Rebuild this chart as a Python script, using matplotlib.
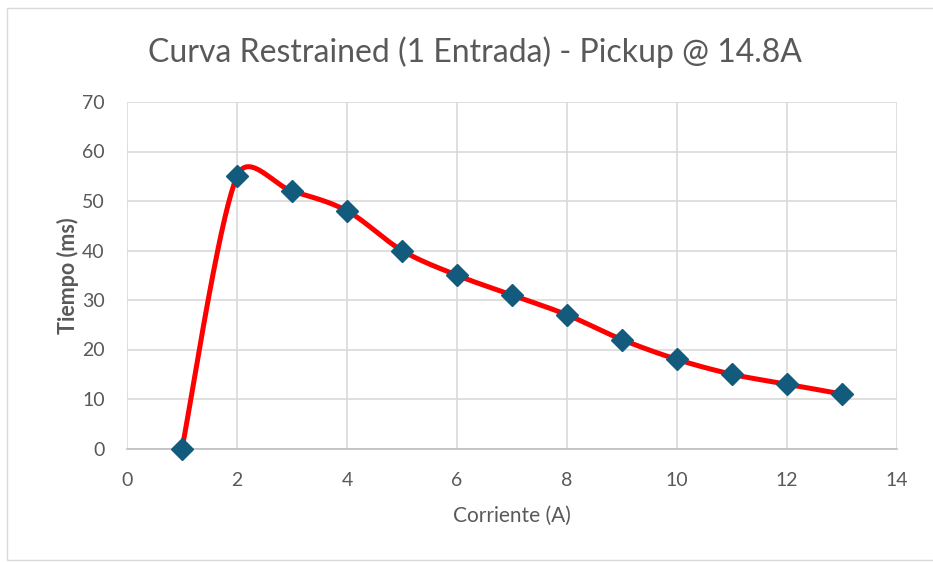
import numpy as np
import matplotlib
matplotlib.use("Agg")
import matplotlib.pyplot as plt
from matplotlib.patches import Rectangle

# Data
corriente = [1, 2, 3, 4, 5, 6, 7, 8, 9, 10, 11, 12, 13]
tiempo = [0, 55, 52, 48, 40, 35, 31, 27, 22, 18, 15, 13, 11]
x_ticks = [0, 2, 4, 6, 8, 10, 12, 14]
y_ticks = [0, 10, 20, 30, 40, 50, 60, 70]
title = "Curva Restrained (1 Entrada) - Pickup @ 14.8A"
xlabel = "Corriente (A)"
ylabel = "Tiempo (ms)"


def excel_smooth(xs, ys, sx, sy, n=40):
    """Excel-style smoothed line: Bezier through the points, control offsets
    1/6 of the neighbour chord, capped at half the segment (screen space)."""
    P = np.column_stack([np.asarray(xs, float) * sx, np.asarray(ys, float) * sy])
    ext = np.vstack([P[0], P, P[-1]])
    out = []
    t = np.linspace(0, 1, n)[:, None]
    for i in range(1, len(ext) - 2):
        p0, p1, p2, p3 = ext[i - 1], ext[i], ext[i + 1], ext[i + 2]
        d12 = np.linalg.norm(p2 - p1)
        d02 = np.linalg.norm(p2 - p0)
        d13 = np.linalg.norm(p3 - p1)
        f1 = 1 / 6.0
        f2 = 1 / 6.0
        if d02 / 6.0 > d12 / 2.0 and d02 > 0:
            f1 = d12 / (2.0 * d02)
        if d13 / 6.0 > d12 / 2.0 and d13 > 0:
            f2 = d12 / (2.0 * d13)
        c1 = p1 + f1 * (p2 - p0)
        c2 = p2 - f2 * (p3 - p1)
        seg = ((1 - t) ** 3) * p1 + 3 * ((1 - t) ** 2) * t * c1 + 3 * (1 - t) * t ** 2 * c2 + t ** 3 * p2
        out.append(seg if i == 1 else seg[1:])
    out = np.vstack(out)
    return out[:, 0] / sx, out[:, 1] / sy


plt.rcParams['font.family'] = ['Lato', 'DejaVu Sans']
gray = '#595959'

fig = plt.figure(figsize=(9.33, 5.62), dpi=100)
fig.patch.set_facecolor('white')
fig.patches.append(Rectangle((7 / 933, 2 / 562), 940 / 933, 552 / 562, transform=fig.transFigure,
                             fill=False, edgecolor='#D9D9D9', linewidth=1.0))

ax_w_px, ax_h_px = 770, 346.5
ax = fig.add_axes([127 / 933, 1 - 448.5 / 562, ax_w_px / 933, ax_h_px / 562])
ax.set_xlim(0, 14)
ax.set_ylim(0, 70)
ax.set_xticks(x_ticks)
ax.set_yticks(y_ticks)
ax.grid(True, color='#D9D9D9', linewidth=1.2)
ax.set_axisbelow(True)
for s in ['top', 'right', 'left']:
    ax.spines[s].set_visible(False)
ax.spines['bottom'].set_color('#BFBFBF')
ax.spines['bottom'].set_linewidth(1.2)
ax.tick_params(length=0, labelsize=14, labelcolor=gray)
ax.tick_params(axis='x', pad=17)
ax.tick_params(axis='y', pad=16)

sx_, sy_ = excel_smooth(corriente, tiempo, ax_w_px / 14.0, ax_h_px / 70.0)
ax.plot(sx_, sy_, color='#FF0000', linewidth=3.6, solid_capstyle='round', zorder=3, clip_on=False)
ax.plot(corriente, tiempo, linestyle='none', marker='D', markersize=11.5,
        color='#135B7C', markeredgecolor='#135B7C', zorder=4, clip_on=False)

ax.set_xlabel(xlabel, fontsize=15, color=gray, labelpad=12)
ax.set_ylabel(ylabel, fontsize=15.5, color=gray, fontweight='bold', labelpad=2)
fig.text(475 / 933, 1 - 52 / 562, title, fontsize=23, color=gray, ha='center', va='center')

fig.savefig('out.png', dpi=100)
